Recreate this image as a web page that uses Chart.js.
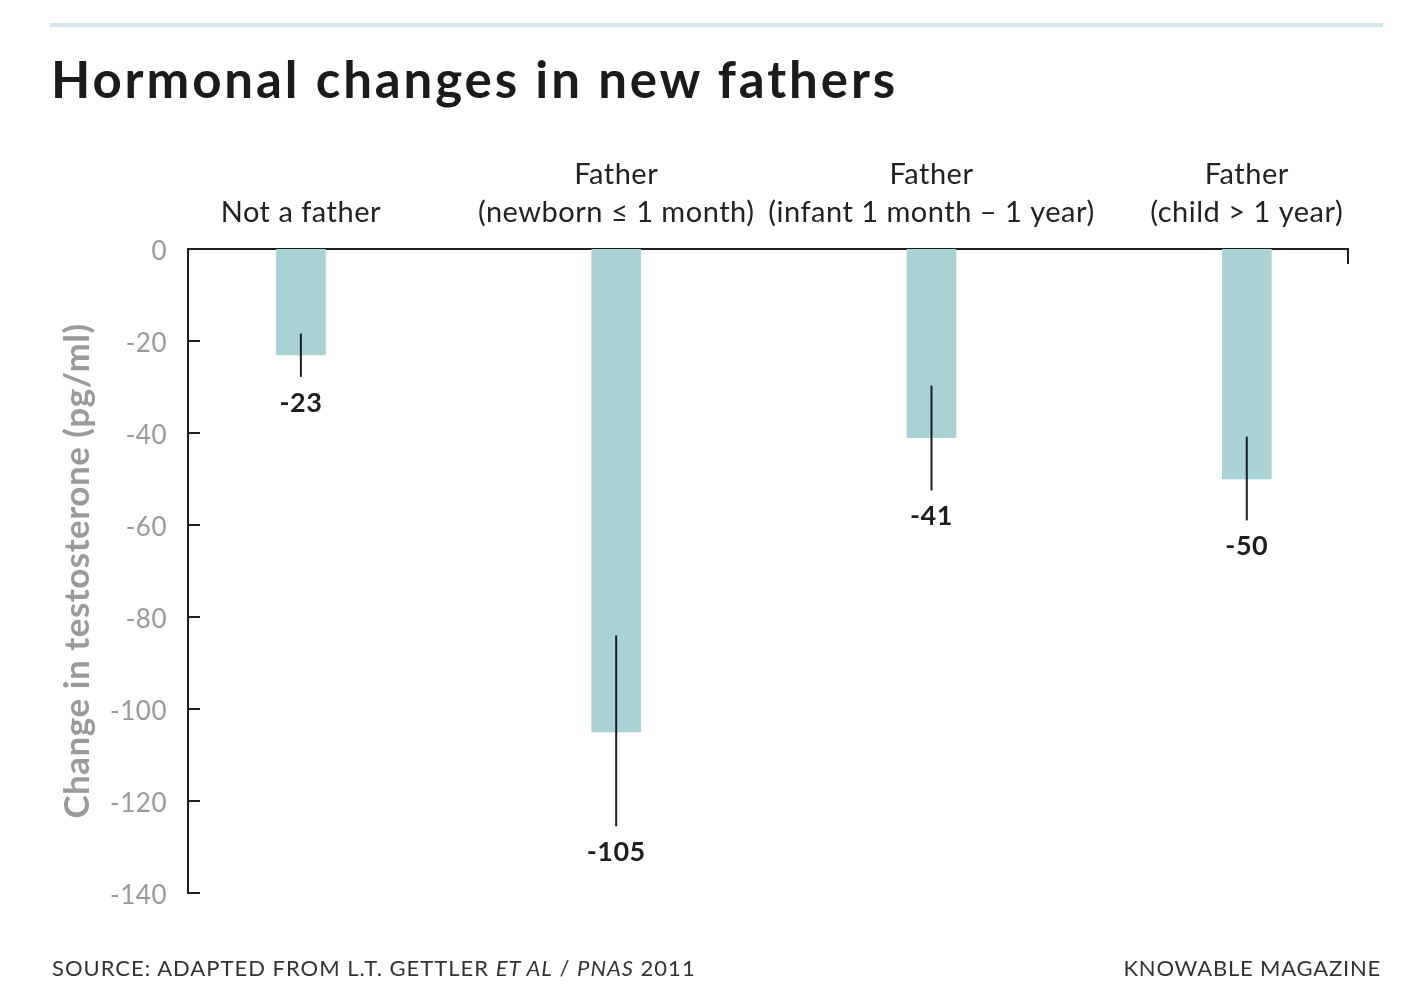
<!DOCTYPE html>
<html>
<head>
<meta charset="utf-8">
<script src="https://cdn.jsdelivr.net/npm/chart.js@4"></script>
<style>
  body { margin: 0; background: #fff; font-family: Lato, sans-serif; }
  #wrap { position: relative; width: 1410px; height: 1000px; }
  #rule { position: absolute; left: 50px; top: 23px; width: 1333px; height: 4px; background: #d3e7e9; }
  #title { position: absolute; left: 51px; top: 47px; font-size: 51px; font-weight: 700; color: #1b1b1b; line-height: 64px; letter-spacing: 2.9px; }
  .foot { position: absolute; top: 954px; font-size: 22px; color: #333; line-height: 28px; letter-spacing: 1px; }
  #source { left: 52px; }
  #brand { right: 29px; letter-spacing: 0.8px; }
  #chartBox { position: absolute; left: 0; top: 0; width: 1410px; height: 1000px; }
</style>
</head>
<body>
<div id="wrap">
  <div id="chartBox"><canvas id="chart"></canvas></div>
  <div id="rule"></div>
  <div id="title">Hormonal changes in new fathers</div>
  <div class="foot" id="source">SOURCE: ADAPTED FROM L.T. GETTLER <i>ET AL</i> / <i>PNAS</i> 2011</div>
  <div class="foot" id="brand">KNOWABLE MAGAZINE</div>
</div>
<script>
const categories = [
    'Not a father',
    ['Father', '(newborn \u2264 1 month)'],
    ['Father', '(infant 1 month \u2013 1 year)'],
    ['Father', '(child > 1 year)']
];
const changes = [-23, -105, -41, -50];
const errorHigh = [-18.4, -84, -29.7, -40.8];
const errorLow = [-27.8, -125.5, -52.5, -59];
const yTicks = [0, -20, -40, -60, -80, -100, -120, -140];

const barColor = '#a9d2d4';
const ink = '#1e1e1e';

// a bit of tracking, the original face is wider than Lato
const spacing = {
    id: 'spacing',
    beforeUpdate(chart) { chart.ctx.letterSpacing = '0.5px'; },
    beforeDraw(chart) { chart.ctx.letterSpacing = '0.5px'; }
};

const extras = {
    id: 'extras',
    afterDatasetsDraw(chart) {
        const {ctx, chartArea, scales: {x, y}} = chart;
        ctx.save();
        ctx.strokeStyle = ink;
        ctx.lineWidth = 2;
        // inward y ticks
        yTicks.forEach(v => {
            if (v === 0) return;
            const py = y.getPixelForValue(v);
            ctx.beginPath();
            ctx.moveTo(chartArea.left, py);
            ctx.lineTo(chartArea.left + 12, py);
            ctx.stroke();
        });
        // right end tick of the top axis
        ctx.beginPath();
        ctx.moveTo(chartArea.right, chartArea.top);
        ctx.lineTo(chartArea.right, chartArea.top + 15);
        ctx.stroke();
        // error bars and value labels
        ctx.font = 'bold 27px Lato';
        ctx.fillStyle = ink;
        ctx.textAlign = 'center';
        ctx.textBaseline = 'middle';
        changes.forEach((v, i) => {
            const px = x.getPixelForValue(i);
            const top = y.getPixelForValue(errorHigh[i]);
            const bottom = y.getPixelForValue(errorLow[i]);
            ctx.beginPath();
            ctx.moveTo(px, top);
            ctx.lineTo(px, bottom);
            ctx.stroke();
            ctx.fillText(String(v), px, bottom + 26);
        });
        ctx.restore();
    }
};

new Chart(document.querySelector('#chart'), {
    type: 'bar',
    data: {
        datasets: [{
            data: changes.map((v, i) => ({x: i, y: v})),
            backgroundColor: barColor,
            barThickness: 49
        }]
    },
    options: {
        responsive: true,
        maintainAspectRatio: false,
        animation: false,
        layout: {padding: {left: 40, right: 62, top: 139, bottom: 107}},
        plugins: {legend: {display: false}, tooltip: {enabled: false}},
        scales: {
            x: {
                type: 'linear',
                position: 'top',
                offset: false,
                min: -0.358,
                max: 3.321,
                grid: {display: false, offset: false},
                border: {display: true, color: ink, width: 2},
                afterBuildTicks: axis => { axis.ticks = categories.map((c, i) => ({value: i})); },
                afterFit: axis => { axis.height = 110; },
                ticks: {
                    color: '#222',
                    font: {family: 'Lato', size: 29, lineHeight: 1.29},
                    padding: 10,
                    maxRotation: 0,
                    autoSkip: false,
                    callback: v => categories[v]
                }
            },
            y: {
                min: -140,
                max: 0,
                grid: {display: false},
                border: {display: true, color: ink, width: 2},
                afterFit: axis => { axis.width = 148; },
                ticks: {
                    stepSize: 20,
                    color: '#9a9a9a',
                    font: {family: 'Lato', size: 26},
                    padding: 13,
                    labelOffset: 3
                },
                title: {
                    display: true,
                    text: 'Change in testosterone (pg/ml)',
                    color: '#9a9a9a',
                    font: {family: 'Lato', size: 35, weight: 'bold'},
                    padding: {top: 17, bottom: 0}
                }
            }
        }
    },
    plugins: [spacing, extras]
});
</script>
</body>
</html>
